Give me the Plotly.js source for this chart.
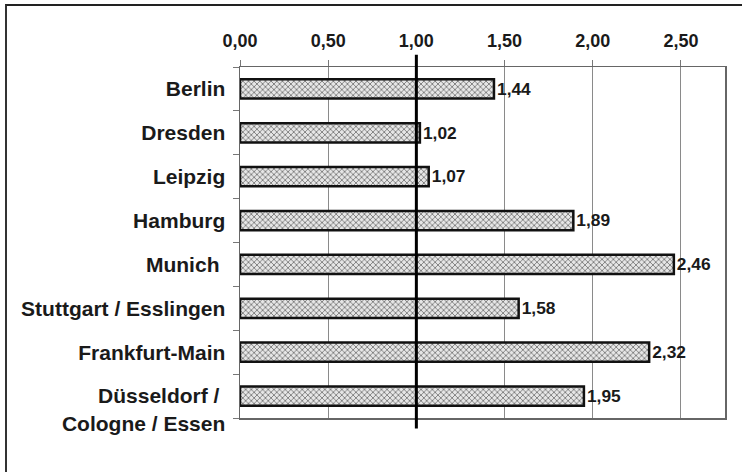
<!DOCTYPE html>
<html>
<head>
<meta charset="utf-8">
<script src="https://cdn.plot.ly/plotly-3.0.1.min.js"></script>
<style>
  html, body { margin: 0; padding: 0; background: #fff; }
  #wrap { position: relative; width: 742px; height: 472px; overflow: hidden; }
  #frame { position: absolute; left: 5px; top: 4px; width: 742px; height: 472px;
           border-top: 2px solid #222; border-left: 2px solid #333; box-sizing: border-box; pointer-events: none; z-index: 5; }
  #chart { position: absolute; left: 0; top: 0; width: 742px; height: 472px; }
</style>
</head>
<body>
<div id="wrap">
  <div id="chart"></div>
  <div id="frame"></div>
</div>
<script>
const cities = ["Berlin", "Dresden", "Leipzig", "Hamburg", "Munich",
                "Stuttgart / Esslingen", "Frankfurt-Main", "Düsseldorf / Cologne / Essen"];
const cityLabels = ["Berlin", "Dresden", "Leipzig", "Hamburg", "Munich ",
                    "Stuttgart / Esslingen", "Frankfurt-Main", " <br>Düsseldorf / <br>Cologne / Essen"];
const values = [1.44, 1.02, 1.07, 1.89, 2.46, 1.58, 2.32, 1.95];
const valueLabels = ["1,44", "1,02", "1,07", "1,89", "2,46", "1,58", "2,32", "1,95"];
const xTickValues = [0, 0.5, 1, 1.5, 2, 2.5];
const xTickLabels = ["0,00", "0,50", "1,00", "1,50", "2,00", "2,50"];
const xRange = [0, 2.75];
const referenceLine = 1.0;

const font = "Arial, 'Liberation Sans', sans-serif";

const trace = {
  type: "bar",
  orientation: "h",
  y: cities,
  x: values,
  text: valueLabels,
  texttemplate: "%{text}",
  textposition: "outside",
  cliponaxis: false,
  textfont: { family: font, size: 18, color: "#1a1a1a", weight: "bold" },
  width: 0.44,
  marker: {
    color: "#d8d8d8",
    line: { color: "#111", width: 2.5 },
    pattern: { shape: "x", size: 4, solidity: 0.35, fgcolor: "#6a6a6a", bgcolor: "#e6e6e6" }
  },
  hoverinfo: "skip"
};

const refX = (referenceLine - xRange[0]) / (xRange[1] - xRange[0]);

const layout = {
  width: 742, height: 472,
  margin: { l: 240, r: 17, t: 67, b: 54 },
  paper_bgcolor: "#fff",
  plot_bgcolor: "#fff",
  showlegend: false,
  bargap: 0.5,
  xaxis: {
    side: "top",
    range: xRange,
    tickvals: xTickValues,
    ticktext: xTickLabels,
    ticks: "outside", ticklen: 6, tickcolor: "#777", tickwidth: 1,
    showgrid: true, gridcolor: "#8a8a8a", gridwidth: 1,
    showline: true, linecolor: "#666", linewidth: 1.5, mirror: true,
    zeroline: false,
    automargin: false,
    ticklabelstandoff: 5,
    tickfont: { family: font, size: 18, color: "#1a1a1a", weight: "bold" },
    fixedrange: true
  },
  yaxis: {
    type: "category",
    categoryorder: "array",
    categoryarray: cities,
    tickvals: cities,
    ticktext: cityLabels,
    range: [7.5, -0.5],
    autorange: false,
    tickson: "boundaries",
    ticks: "outside", ticklen: 6, tickcolor: "#777", tickwidth: 1,
    showgrid: false,
    showline: true, linecolor: "#666", linewidth: 1.5, mirror: true,
    zeroline: false,
    automargin: false,
    ticklabelstandoff: 9,
    tickfont: { family: font, size: 21, color: "#1a1a1a", weight: "bold" },
    fixedrange: true
  },
  shapes: [{
    type: "line", xref: "paper", yref: "paper",
    x0: refX, x1: refX, y0: -0.03, y1: 1.035,
    line: { color: "#000", width: 3 }, layer: "above"
  }]
};

Plotly.newPlot("chart", [trace], layout, { displayModeBar: false, staticPlot: true });
</script>
</body>
</html>
